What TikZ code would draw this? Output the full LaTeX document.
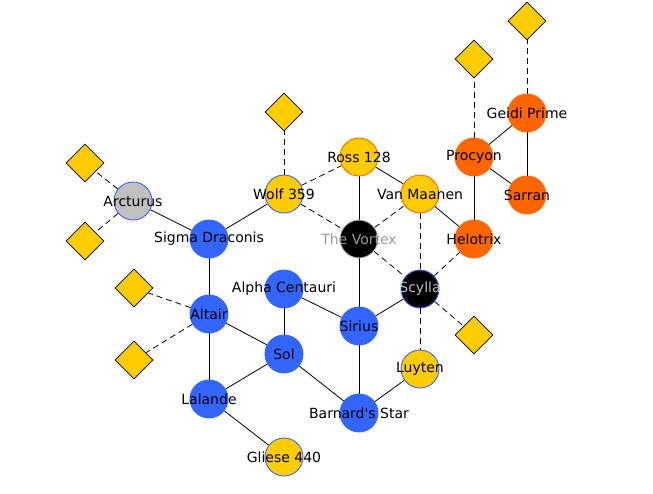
\documentclass[tikz,border=0pt]{standalone}
\usepackage{fontspec}
\setmainfont{DejaVu Sans}[Ligatures=TeXOff]
\usetikzlibrary{shapes.geometric, backgrounds}
\definecolor{starblue}{RGB}{51,102,255}
\definecolor{staryellow}{RGB}{255,204,0}
\definecolor{starorange}{RGB}{255,102,0}
\definecolor{stargray}{RGB}{192,192,192}
\begin{document}
\begin{tikzpicture}[x=1pt, y=-1pt,
    star/.style={circle, minimum size=38pt, inner sep=0pt, draw=#1, line width=0.9pt},
    bluestar/.style={star=starblue, fill=starblue},
    orangestar/.style={star=starorange, fill=starorange},
    planet/.style={diamond, draw=black, fill=staryellow, minimum size=38pt, inner sep=0pt, line width=0.8pt},
    starlabel/.style={font=\fontsize{14}{16}\selectfont, inner sep=0pt},
    link/.style={draw=black, line width=0.8pt},
    weak/.style={link, dash pattern=on 6pt off 4pt}]

    % 1. Frame
    \useasboundingbox (0,0) rectangle (653,493);

    % 2. The stars
    \node[star=starblue, fill=stargray] (arcturus) at (133,201) {};
    \node[bluestar] (sigma) at (209,239) {};
    \node[star=starblue, fill=staryellow] (wolf) at (284,194) {};
    \node[star=starorange, fill=staryellow] (ross) at (359,157) {};
    \node[star=starorange, fill=staryellow] (vanmaanen) at (420,194) {};
    \node[star=stargray, fill=black] (vortex) at (359,239) {};
    \node[star=starblue, fill=black] (scylla) at (420,289) {};
    \node[orangestar] (procyon) at (474,157) {};
    \node[orangestar] (geidi) at (527,113) {};
    \node[orangestar] (sarran) at (527,195) {};
    \node[orangestar] (helotrix) at (474,239) {};
    \node[bluestar] (altair) at (209,314) {};
    \node[bluestar] (alpha) at (284,289) {};
    \node[bluestar] (sirius) at (359,326) {};
    \node[bluestar] (sol) at (284,354) {};
    \node[bluestar] (lalande) at (209,399) {};
    \node[bluestar] (barnard) at (359,413) {};
    \node[star=starblue, fill=staryellow] (luyten) at (420,369) {};
    \node[star=starblue, fill=staryellow] (gliese) at (284,457) {};

    % 3. The planets
    \node[planet] (p1) at (85,163) {};
    \node[planet] (p2) at (85,241) {};
    \node[planet] (p3) at (284,112) {};
    \node[planet] (p4) at (134,288) {};
    \node[planet] (p5) at (134,360) {};
    \node[planet] (p6) at (474,335) {};
    \node[planet] (p7) at (474,59) {};
    \node[planet] (p8) at (527,21) {};

    % 4. Lanes, behind everything
    \begin{scope}[on background layer]
        \foreach \a/\b in {arcturus/sigma, sigma/wolf, sigma/altair, altair/lalande,
            altair/sol, alpha/sol, alpha/sirius, sol/lalande, sol/barnard,
            lalande/gliese, sirius/barnard, sirius/vortex, sirius/scylla,
            barnard/luyten, ross/vortex, ross/vanmaanen, vanmaanen/helotrix,
            procyon/helotrix, procyon/geidi, procyon/sarran, geidi/sarran}
            \draw[link] (\a) -- (\b);
        \foreach \a/\b in {arcturus/p1, arcturus/p2, wolf/p3, wolf/ross,
            wolf/vortex, vortex/vanmaanen, vortex/scylla, vanmaanen/scylla,
            scylla/helotrix, scylla/luyten, scylla/p6, altair/p4, altair/p5,
            procyon/p7, geidi/p8}
            \draw[weak] (\a) -- (\b);
    \end{scope}

    % 5. Names on top
    \foreach \n/\t in {arcturus/Arcturus, sigma/Sigma Draconis, wolf/Wolf 359,
        ross/Ross 128, vanmaanen/Van Maanen, procyon/Procyon, geidi/Geidi Prime,
        sarran/Sarran, helotrix/Helotrix, altair/Altair, alpha/Alpha Centauri,
        sirius/Sirius, sol/Sol, lalande/Lalande, barnard/Barnard's Star,
        luyten/Luyten, gliese/Gliese 440}
        \node[starlabel] (\n-name) at (\n) {\t};
    \node[starlabel, text=black!40] (vortex-name) at (vortex) {The Vortex};
    \node[starlabel, text=black!25] (scylla-name) at (scylla) {Scylla};

\end{tikzpicture}
\end{document}
